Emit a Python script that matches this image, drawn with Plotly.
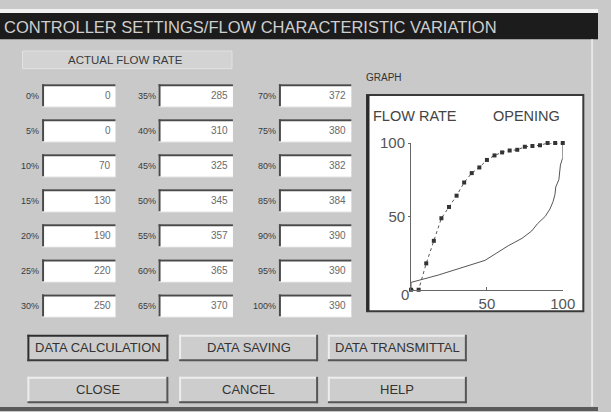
import plotly.graph_objects as go

W, H = 611, 412

# ---- data ----
openings = [0, 5, 10, 15, 20, 25, 30, 35, 40, 45, 50, 55, 60, 65, 70, 75, 80, 85, 90, 95, 100]
flow_values = [0, 0, 70, 130, 190, 220, 250, 285, 310, 325, 345, 357, 365, 370, 372, 380, 382, 384, 390, 390, 390]
opening_labels = [f"{o}%" for o in openings]
flow_max = 390
x_ticks = [50, 100]
y_ticks = [50, 100]
buttons_row1 = ["DATA CALCULATION", "DATA SAVING", "DATA TRANSMITTAL"]
buttons_row2 = ["CLOSE", "CANCEL", "HELP"]
title_text = "CONTROLLER SETTINGS/FLOW CHARACTERISTIC VARIATION"

flow_pct = [v / flow_max * 100 for v in flow_values]

FONT = "Liberation Sans, Arial, sans-serif"
BG = "#c9c9c9"


def px(x):
    return x / W


def py(y):
    return 1 - y / H


shapes = []
annotations = []


def rect(x0, y0, x1, y1, fill, line=None, lw=0):
    shapes.append(dict(type="rect", xref="paper", yref="paper",
                       x0=px(x0), x1=px(x1), y0=py(y1), y1=py(y0),
                       fillcolor=fill, line=dict(color=line or fill, width=lw),
                       layer="below"))


def hline(x0, x1, y, color, w=1):
    shapes.append(dict(type="line", xref="paper", yref="paper",
                       x0=px(x0), x1=px(x1), y0=py(y), y1=py(y),
                       line=dict(color=color, width=w), layer="below"))


def vline(x, y0, y1, color, w=1):
    shapes.append(dict(type="line", xref="paper", yref="paper",
                       x0=px(x), x1=px(x), y0=py(y0), y1=py(y1),
                       line=dict(color=color, width=w), layer="below"))


def text(x, y, s, size, color, anchor="left", family=FONT):
    annotations.append(dict(x=px(x), y=py(y), xref="paper", yref="paper",
                            text=s, showarrow=False, xanchor=anchor, yanchor="middle",
                            font=dict(family=family, size=size, color=color)))


# window background and title bar
rect(0, 0, W, 4, "#f2f2f2")
rect(0, 4, W, 31, "#1c1c1c")
text(2, 18, title_text, 16.5, "#cfcfcf")
vline(605, 31, 406, "#e6e6e6", 2)
hline(0, W, 409, "#5a5a5a", 4)

# header box
rect(23, 43, 237, 61, "#d3d3d3", "#e2e2e2", 1)
text(128, 52, "ACTUAL FLOW RATE", 11.5, "#3a3a3a", anchor="center")

# grid of entry boxes
col_x = [(43, 118), (162, 238), (285, 359)]
for i, (lab, val) in enumerate(zip(opening_labels, flow_values)):
    c, r = divmod(i, 7)
    x0, x1 = col_x[c]
    top = 77 + 35.8 * r
    bot = top + 23
    rect(x0, top, x1, bot, "#ffffff")
    hline(x0, x1, top + 1, "#4a4a4a", 2)
    vline(x0 + 1, top, bot, "#4a4a4a", 2)
    hline(x0, x1, bot, "#efefef", 1)
    text(x0 - 1, (top + bot) / 2, lab, 9, "#3a3a3a", anchor="right")
    text(x1 - 3, (top + bot) / 2, str(val), 10, "#6a6a6a", anchor="right")

# graph panel
text(372, 70, "GRAPH", 10, "#333333")
rect(375, 88, 596, 309, "#ffffff", "#3a3a3a", 2)
vline(376, 88, 309, "#2a2a2a", 3)
text(379, 109, "FLOW RATE", 14.5, "#444444")
text(574, 109, "OPENING", 14.5, "#444444", anchor="right")

# buttons
btn_x = [(28, 172), (183, 325), (335, 477)]
for row, (labels, y0, y1) in enumerate([(buttons_row1, 333, 360), (buttons_row2, 376, 403)]):
    for j, lab in enumerate(labels):
        x0, x1 = btn_x[j]
        pressed = (row == 0 and j == 0)
        rect(x0, y0, x1, y1, "#cdcdcd")
        if pressed:
            hline(x0, x1, y0 + 1, "#2e2e2e", 2)
            vline(x0 + 1, y0, y1, "#2e2e2e", 2)
            hline(x0, x1, y1 - 1, "#3a3a3a", 2)
            vline(x1 - 1, y0, y1, "#3a3a3a", 2)
        else:
            hline(x0, x1, y0 + 1, "#ededed", 2)
            vline(x0 + 1, y0, y1, "#ededed", 2)
            hline(x0, x1, y1 - 1, "#555555", 2)
            vline(x1 - 1, y0, y1, "#555555", 2)
        text((x0 + x1) / 2, (y0 + y1) / 2, lab, 13, "#333333", anchor="center")

fig = go.Figure()

# inverse (compensating) characteristic
fig.add_trace(go.Scatter(x=flow_pct, y=openings, mode="lines",
                         line=dict(color="#555555", width=1),
                         cliponaxis=False, hoverinfo="skip"))
# measured characteristic
fig.add_trace(go.Scatter(x=openings, y=flow_pct, mode="lines+markers",
                         line=dict(color="#555555", width=1, dash="dot"),
                         marker=dict(symbol="square", size=4, color="#333333"),
                         cliponaxis=False, hoverinfo="skip"))

annotations.append(dict(x=0, y=0, xref="x", yref="y", text="0", showarrow=False,
                        xanchor="right", yanchor="middle", yshift=-5,
                        font=dict(family=FONT, size=15, color="#555555")))

fig.update_layout(
    width=W, height=H, margin=dict(l=0, r=0, t=0, b=0),
    paper_bgcolor=BG, plot_bgcolor="rgba(0,0,0,0)",
    showlegend=False, shapes=shapes, annotations=annotations,
    xaxis=dict(domain=[px(420), px(575)], range=[0, 100], showgrid=False, zeroline=False,
               showline=True, linecolor="#666666", linewidth=1,
               tickvals=x_ticks, ticktext=[str(v) for v in x_ticks],
               ticks="inside", ticklen=3, tickcolor="#666666",
               tickfont=dict(family=FONT, size=15, color="#555555"), fixedrange=True),
    yaxis=dict(domain=[py(287), py(137)], range=[0, 100], showgrid=False, zeroline=False,
               showline=True, linecolor="#666666", linewidth=1,
               tickvals=y_ticks, ticktext=[str(v) for v in y_ticks],
               ticks="outside", ticklen=2, tickcolor="#666666",
               tickfont=dict(family=FONT, size=15, color="#555555"), fixedrange=True),
)

fig.write_html("out.html", config={"displayModeBar": False},
               post_script="document.body.style.margin='0';document.body.style.overflow='hidden';")
